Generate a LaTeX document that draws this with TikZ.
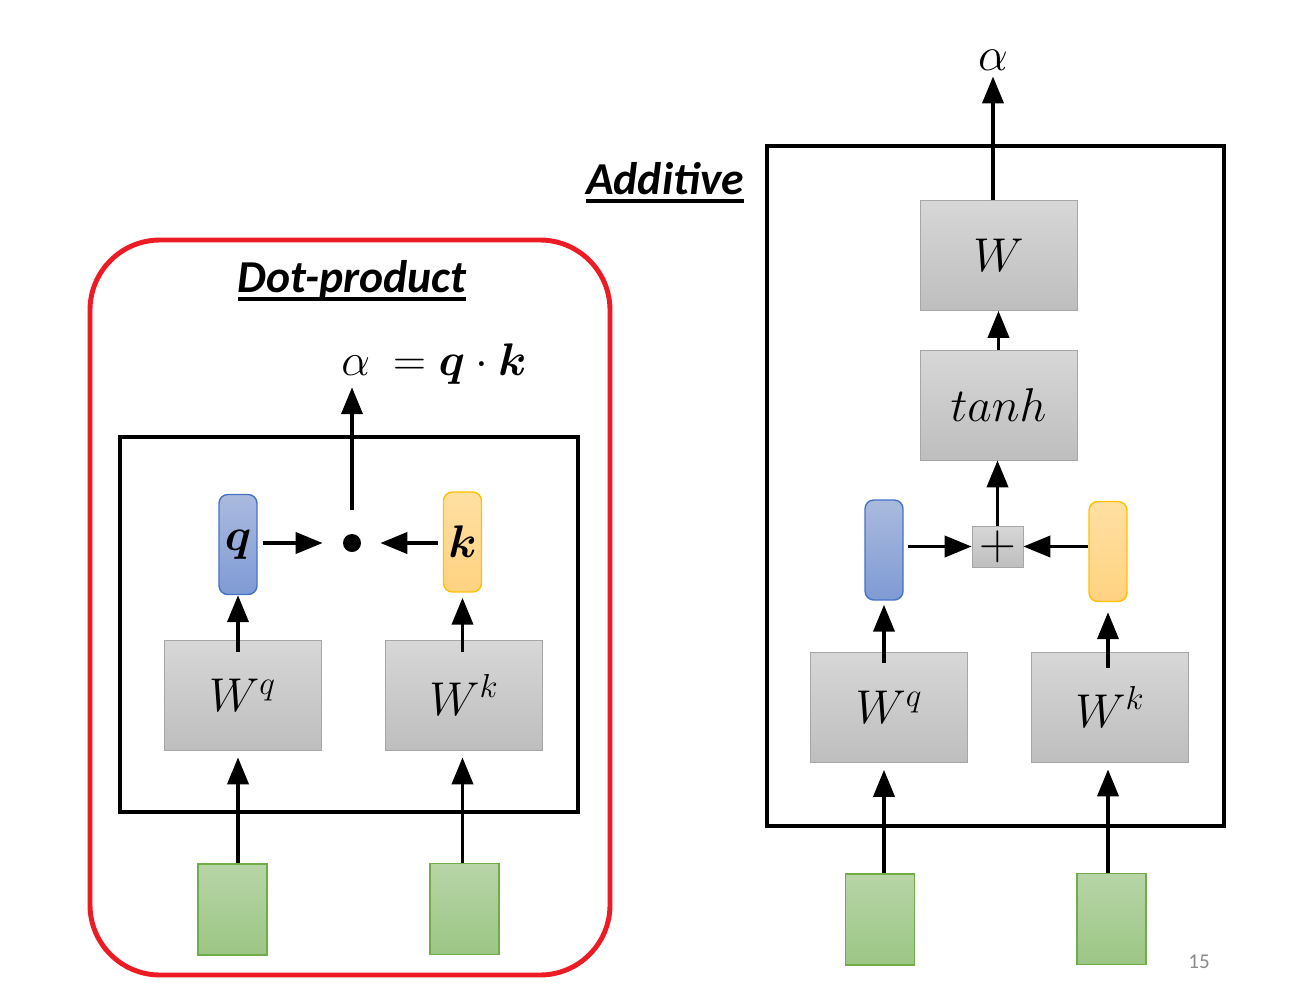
\documentclass[tikz,border=0pt]{standalone}
\usepackage{fix-cm}
\usepackage{amsmath}
\usepackage{fontspec}
\setmainfont{Carlito}
\usetikzlibrary{arrows.meta, positioning, calc}
\definecolor{box_gray_top}{RGB}{215, 215, 215}
\definecolor{box_gray_bot}{RGB}{190, 190, 190}
\definecolor{box_gray_line}{RGB}{166, 166, 166}
\definecolor{q_blue_top}{RGB}{170, 186, 222}
\definecolor{q_blue_bot}{RGB}{127, 155, 212}
\definecolor{q_blue_line}{RGB}{68, 114, 196}
\definecolor{k_gold_top}{RGB}{255, 224, 162}
\definecolor{k_gold_bot}{RGB}{255, 210, 128}
\definecolor{k_gold_line}{RGB}{255, 192, 0}
\definecolor{x_green_top}{RGB}{183, 213, 167}
\definecolor{x_green_bot}{RGB}{156, 198, 133}
\definecolor{x_green_line}{RGB}{112, 173, 71}
\definecolor{frame_red}{RGB}{237, 28, 36}
\definecolor{slide_gray}{RGB}{140, 140, 140}
\def \QB {\boldsymbol{q}}
\def \KB {\boldsymbol{k}}
\newcommand{\thickul}[1]{\setbox0\hbox{#1}\rlap{\usebox0}\rule[-5pt]{\wd0}{2.3pt}}

\begin{document}
\begin{tikzpicture}[
    x=0.02cm, y=-0.02cm,
    % Node styles
    layer/.style={
        rectangle,
        draw=box_gray_line,
        top color=box_gray_top,
        bottom color=box_gray_bot,
        minimum width=3.14cm,
        minimum height=2.2cm,
        inner sep=0pt,
        font=\fontsize{27}{30}\selectfont
    },
    vec/.style={
        rectangle,
        rounded corners=5pt,
        draw=#1_line,
        top color=#1_top,
        bottom color=#1_bot,
        thick,
        minimum width=0.76cm,
        minimum height=2cm,
        inner sep=0pt,
        font=\fontsize{26}{30}\selectfont
    },
    inp/.style={
        rectangle,
        draw=x_green_line,
        top color=x_green_top,
        bottom color=x_green_bot,
        thick,
        minimum width=1.38cm,
        minimum height=1.82cm
    },
    title/.style={
        anchor=base,
        inner sep=0pt,
        font=\fontsize{26}{30}\selectfont\bfseries\itshape
    },
    frame/.style={
        line width=2.3pt
    },
    arrow/.style={
        -{Triangle[length=0.54cm, width=0.42cm]},
        line width=2.2pt
    }
]
\useasboundingbox (0,0) rectangle (1306,998);

% Dot-product panel
\draw[frame_red, line width=2.8pt, rounded corners=1.4cm] (90,240) rectangle (610,975);
\draw[frame] (120,437) rectangle (578,812);
\node[title] (dp_title) at (352,292) {\thickul{Dot-product}};

\node[vec=q_blue] (q_dp) at (238,544.5) {$\QB$};
\node[vec=k_gold] (k_dp) at (462.5,542) {$\KB$};
\node[circle, fill=black, minimum size=0.36cm, inner sep=0pt] (dot) at (352,543) {};
\node[layer] (wq_dp) at (242.5,695) {$W^{q}$};
\node[layer] (wk_dp) at (464,695) {$W^{k}$};
\node[inp] (x1_dp) at (232.5,909.5) {};
\node[inp] (x2_dp) at (464.5,909) {};
\node[anchor=base west, inner sep=0pt, font=\fontsize{26}{30}\selectfont] (score_dp) at (341,375) {$\alpha\ = \QB\cdot\KB$};

\draw[arrow, shorten <=0.48cm, shorten >=0.06cm] (dot.north) -- (dot.north |- score_dp.south);
\draw[arrow, shorten <=0.1cm, shorten >=0.4cm] (q_dp.east |- dot.west) -- (dot.west);
\draw[arrow, shorten <=0.1cm, shorten >=0.38cm] (k_dp.west |- dot.east) -- (dot.east);
\draw[arrow, shorten <=-0.24cm] (q_dp.south |- wq_dp.north) -- (q_dp.south);
\draw[arrow, shorten <=-0.24cm, shorten >=0.1cm] (k_dp.south |- wk_dp.north) -- (k_dp.south);
\draw[arrow, shorten >=0.14cm] (q_dp.south |- x1_dp.north) -- (q_dp.south |- wq_dp.south);
\draw[arrow, shorten >=0.14cm] (k_dp.south |- x2_dp.north) -- (k_dp.south |- wk_dp.south);

% Additive panel
\draw[frame] (767,146) rectangle (1224,826);
\node[title] (add_title) at (665,194) {\thickul{Additive}};

\node[font=\fontsize{27}{30}\selectfont] (alpha_add) at (993,60) {$\alpha$};
\node[layer] (w_add) at (998.5,255.5) {$W$};
\node[layer] (tanh_add) at (998.5,405) {$tanh$};
\node[layer, minimum width=1.02cm, minimum height=0.82cm, font=\fontsize{29}{30}\selectfont] (plus_add) at (997.5,546.5) {$+$};
\node[vec=q_blue] (q_add) at (884,550) {};
\node[vec=k_gold] (k_add) at (1108,551.5) {};
\node[layer] (wq_add) at (889,707.5) {$W^{q}$};
\node[layer] (wk_add) at (1110,707) {$W^{k}$};
\node[inp] (x1_add) at (880,919.5) {};
\node[inp] (x2_add) at (1111.5,919) {};

\draw[arrow] (alpha_add.south |- w_add.north) -- (alpha_add.south);
\draw[arrow] (tanh_add.north) -- (w_add.south);
\draw[arrow] (plus_add.north) -- (plus_add.north |- tanh_add.south);
\draw[arrow, shorten <=0.08cm] (q_add.east |- plus_add.west) -- (plus_add.west);
\draw[arrow] (k_add.west |- plus_add.east) -- (plus_add.east);
\draw[arrow, shorten <=-0.22cm, shorten >=0.08cm] (q_add.south |- wq_add.north) -- (q_add.south);
\draw[arrow, shorten <=-0.32cm, shorten >=0.2cm] (k_add.south |- wk_add.north) -- (k_add.south);
\draw[arrow, shorten >=0.14cm] (q_add.south |- x1_add.north) -- (q_add.south |- wq_add.south);
\draw[arrow, shorten >=0.14cm] (k_add.south |- x2_add.north) -- (k_add.south |- wk_add.south);

\node[text=slide_gray, font=\fontsize{12}{14}\selectfont] (page_no) at (1199,962) {15};

\end{tikzpicture}
\end{document}
